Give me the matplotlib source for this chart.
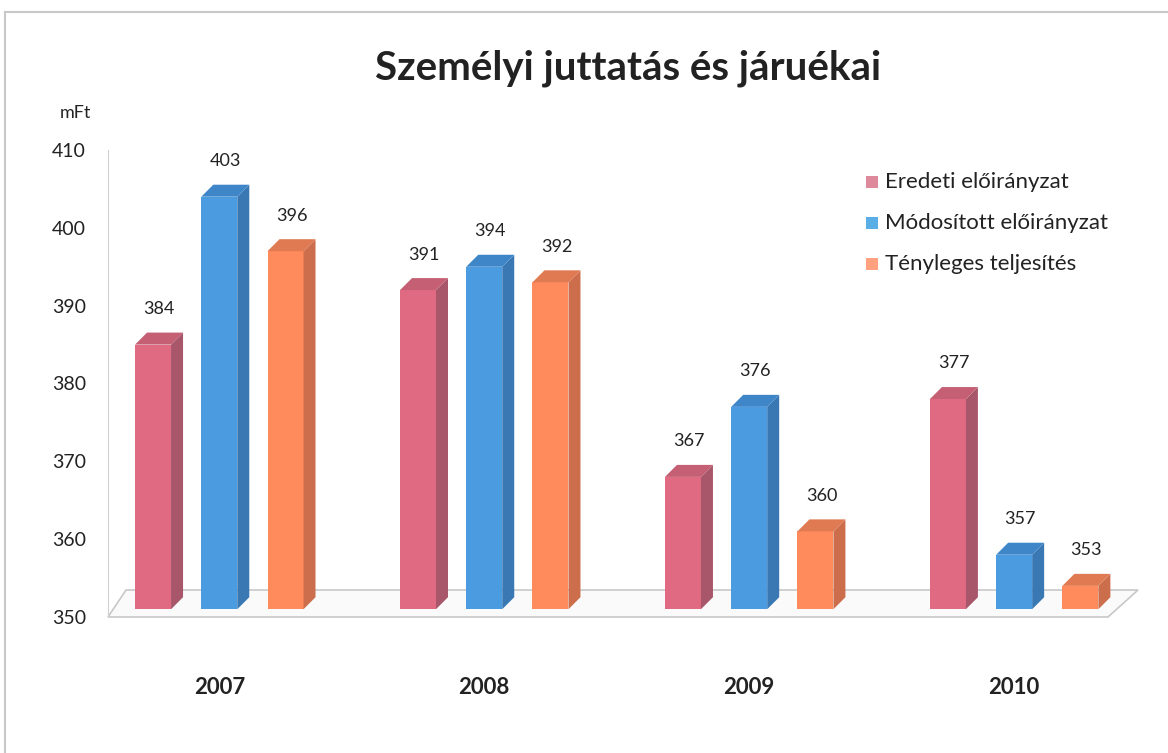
import matplotlib.pyplot as plt
from matplotlib.patches import Polygon, Rectangle
from matplotlib.lines import Line2D

# Adatok (mFt)
years = ['2007', '2008', '2009', '2010']
series_names = ['Eredeti előirányzat', 'Módosított előirányzat', 'Tényleges teljesítés']
eredeti = [384, 391, 367, 377]
modositott = [403, 394, 376, 357]
tenyleges = [396, 392, 360, 353]
y_ticks = [350, 360, 370, 380, 390, 400, 410]

front_colors = ['#e06a82', '#4a9be0', '#ff8a5c']
side_colors = ['#a8566a', '#3a78b4', '#cc6e4c']
top_colors = ['#c45f74', '#3f86c8', '#e07a52']
legend_colors = ['#df8a9c', '#5aaee6', '#ffa07e']

plt.rcParams['font.family'] = ['Lato', 'DejaVu Sans']

W, H = 1168, 753
fig = plt.figure(figsize=(W / 100, H / 100), dpi=100)

# keret
fig.add_artist(Line2D([5 / W, 5 / W], [0, 1 - 12 / H], transform=fig.transFigure,
                      color='#c8c8c8', lw=1.5))
fig.add_artist(Line2D([5 / W, 1], [1 - 12 / H, 1 - 12 / H], transform=fig.transFigure,
                      color='#c8c8c8', lw=1.5))

ax_l, ax_r, ax_t, ax_b = 108, 1140, 150, 617
ax = fig.add_axes([ax_l / W, 1 - ax_b / H, (ax_r - ax_l) / W, (ax_b - ax_t) / H])

x_min, x_max = -0.42, 3.475
y_min, y_max = 350, 410
ax.set_xlim(x_min, x_max)
ax.set_ylim(y_min, y_max)

px_x = (x_max - x_min) / (ax_r - ax_l)
px_y = (y_max - y_min) / (ax_b - ax_t)

depth_x = 12 * px_x
depth_y = 12 * px_y
shift = 1.0
bar_w = 36 * px_x
offsets = [-0.25, 0.0, 0.25]

# padló
fdx, fdy = 30 * px_x, 27 * px_y
floor_len = 1000 * px_x
floor = Polygon([(x_min, y_min), (x_min + floor_len, y_min),
                 (x_min + floor_len + fdx, y_min + fdy), (x_min + fdx * 0.6, y_min + fdy)],
                closed=True, facecolor='#fafafa', edgecolor='#c8c8c8', lw=1.2,
                clip_on=False, zorder=1)
ax.add_patch(floor)

all_series = [eredeti, modositott, tenyleges]
for si, vals in enumerate(all_series):
    for gi, v in enumerate(vals):
        x0 = gi + offsets[si] - bar_w / 2
        x1 = x0 + bar_w
        b = y_min + shift
        t = v + shift
        z = 3 + gi
        ax.add_patch(Rectangle((x0, b), bar_w, t - b, facecolor=front_colors[si],
                               edgecolor='none', zorder=z, clip_on=False))
        ax.add_patch(Polygon([(x1, b), (x1 + depth_x, b + depth_y),
                              (x1 + depth_x, t + depth_y), (x1, t)],
                             closed=True, facecolor=side_colors[si], edgecolor='none',
                             zorder=z, clip_on=False))
        ax.add_patch(Polygon([(x0, t), (x0 + depth_x, t + depth_y),
                              (x1 + depth_x, t + depth_y), (x1, t)],
                             closed=True, facecolor=top_colors[si], edgecolor='none',
                             zorder=z, clip_on=False))
        ax.text((x0 + x1) / 2 + depth_x / 2, t + depth_y + 2.0, str(v),
                ha='center', va='bottom', fontsize=13, color='#222222', zorder=10)

for gi, yr in enumerate(years):
    ax.text(gi, y_min - 9.0, yr, ha='center', va='center', fontsize=16,
            fontweight='bold', color='#222222')

ax.set_yticks(y_ticks)
ax.set_yticklabels([str(t) for t in y_ticks], fontsize=14, color='#222222')
ax.tick_params(axis='y', length=0, pad=16)
ax.set_xticks([])
for s in ['top', 'right', 'bottom']:
    ax.spines[s].set_visible(False)
ax.spines['left'].set_color('#d0d0d0')
ax.patch.set_visible(False)

fig.text(60 / W, 1 - 113 / H, 'mFt', fontsize=13, color='#222222', va='center')
fig.text(628 / W, 1 - 68 / H, 'Személyi juttatás és járuékai', fontsize=29,
         fontweight='bold', ha='center', va='center', color='#222222')

# jelmagyarázat
for i, name in enumerate(series_names):
    yy = 1 - (182 + i * 41) / H
    fig.add_artist(Rectangle((866 / W, yy - 6 / H), 12 / W, 12 / H,
                             transform=fig.transFigure, facecolor=legend_colors[i],
                             edgecolor='none'))
    fig.text(885 / W, yy, name, fontsize=16, va='center', color='#222222')

fig.savefig('out.png', dpi=100)
